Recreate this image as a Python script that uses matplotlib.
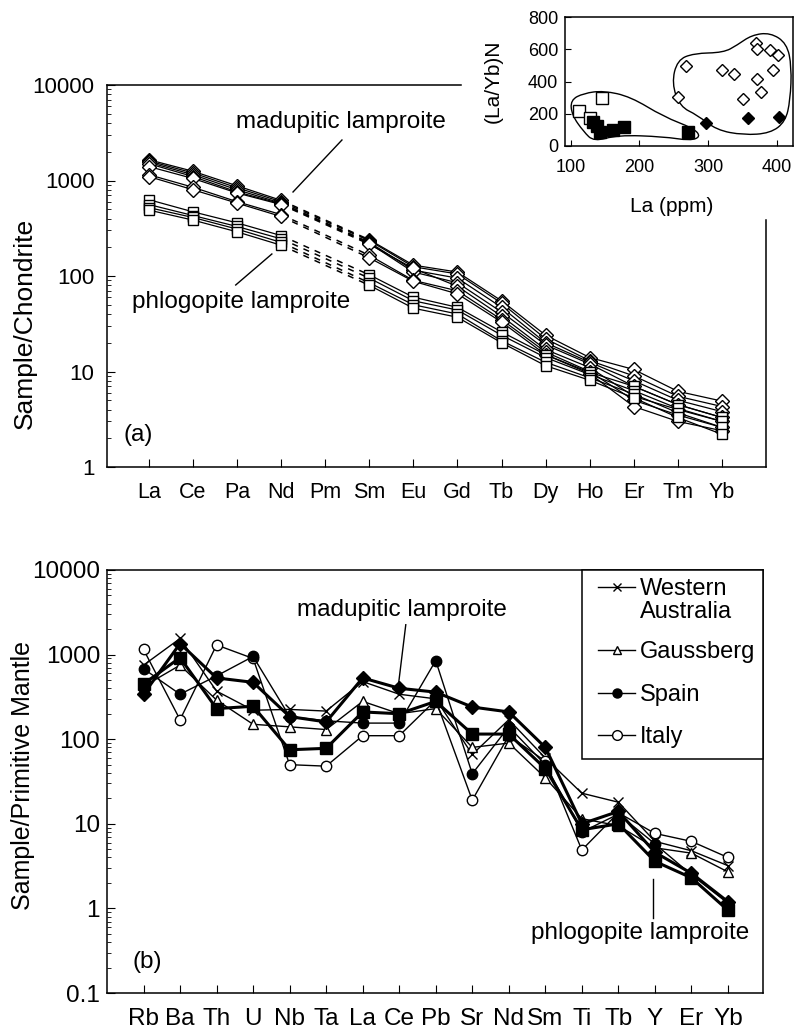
import numpy as np
import matplotlib.pyplot as plt
from matplotlib.lines import Line2D
from matplotlib.path import Path
from matplotlib.patches import PathPatch, Rectangle

plt.rcParams['font.family'] = ['Liberation Sans', 'DejaVu Sans']

nan = np.nan

# ---------------- data: (a) REE / chondrite ----------------
ree = ['La', 'Ce', 'Pa', 'Nd', 'Pm', 'Sm', 'Eu', 'Gd', 'Tb', 'Dy', 'Ho', 'Er', 'Tm', 'Yb']

# madupitic lamproite (open diamonds), Pm not analysed
mad_a1 = [1650, 1250, 880, 620, nan, 240, 130, 110, 55, 24, 14, 10.5, 6.2, 4.9]
mad_a2 = [1600, 1200, 840, 600, nan, 235, 125, 105, 52, 22, 13, 9, 5.5, 4.3]
mad_a3 = [1550, 1150, 800, 580, nan, 225, 115, 95, 47, 20, 12.5, 8, 5, 3.8]
mad_a4 = [1500, 1100, 760, 570, nan, 220, 110, 85, 42, 19, 12, 7, 4.5, 3.3]
mad_a5 = [1400, 1050, 740, 560, nan, 215, 120, 78, 38, 17, 11, 5.5, 4, 3]
mad_a6 = [1150, 850, 600, 440, nan, 165, 90, 70, 35, 16, 10, 5, 3.5, 2.6]
mad_a7 = [1100, 800, 580, 420, nan, 155, 88, 65, 33, 15, 9.5, 4.3, 3.0, 2.4]

# phlogopite lamproite (open squares)
phl_a1 = [630, 470, 360, 265, nan, 103, 60, 47, 26, 15, 9.8, 7, 4.5, 3.3]
phl_a2 = [560, 430, 330, 245, nan, 95, 55, 44, 24, 14, 9.3, 6.3, 4.1, 3.0]
phl_a3 = [520, 410, 310, 225, nan, 85, 50, 40, 21, 12.5, 8.6, 5.8, 3.7, 2.6]
phl_a4 = [490, 385, 290, 210, nan, 80, 46, 37, 20, 11.5, 8.1, 5.3, 3.3, 2.2]

# ---------------- data: inset (La/Yb)N vs La ----------------
mad_open_la = [268, 256, 320, 338, 351, 370, 371, 371, 377, 390, 401, 394]
mad_open_ratio = [498, 306, 471, 446, 291, 637, 599, 413, 337, 595, 564, 471]
mad_fill_la = [296, 358, 403]
mad_fill_ratio = [145, 175, 178]
phl_open_la = [113, 145, 129]
phl_open_ratio = [219, 300, 173]
phl_fill_la = [139, 143, 161, 177, 270, 133]
phl_fill_ratio = [124, 89, 99, 117, 89, 151]

# hand-drawn fields around the two groups
field_phl_x = [100, 119, 148, 187, 235, 279, 289, 274, 235, 168, 134, 119, 102]
field_phl_y = [285, 327, 343, 306, 182, 109, 58, 33, 58, 68, 27, 89, 192]
field_mad_x = [247, 255, 279, 322, 342, 363, 390, 414, 421, 419, 412, 390, 351, 312, 284, 259]
field_mad_y = [389, 533, 575, 579, 626, 688, 703, 637, 492, 285, 151, 79, 68, 99, 192, 244]

# ---------------- data: (b) spider diagram ----------------
spider = ['Rb', 'Ba', 'Th', 'U', 'Nb', 'Ta', 'La', 'Ce', 'Pb', 'Sr', 'Nd', 'Sm', 'Ti', 'Tb', 'Y', 'Er', 'Yb']
w_australia = [750, 1550, 370, 220, 225, 215, 480, 340, 300, 66, 170, 60, 23, 18, 6.2, 4.8, 3.2]
gaussberg = [420, 750, 290, 150, 140, 130, 280, 200, 230, 80, 90, 35, 11.5, 9.5, 5.2, 4.5, 2.7]
spain = [680, 340, 560, 950, 185, 165, 155, 155, 850, 39, 140, 50, 8, 13, 5.8, 2.5, 1.15]
italy = [1150, 170, 1300, 900, 50, 48, 110, 110, 290, 19, 110, 55, 4.9, 13.5, 7.7, 6.2, 4.0]
madupitic_b = [340, 1350, 530, 470, 185, 160, 530, 400, 360, 240, 210, 80, 10, 14, 4.6, 2.6, 1.2]
phlogopite_b = [450, 920, 230, 245, 75, 78, 210, 200, 280, 115, 115, 45, 8.5, 10, 3.6, 2.3, 0.95]

W, H = 801, 1033
fig = plt.figure(figsize=(W / 100, H / 100), dpi=100)


def fx(px):
    return px / W


def fy(py):
    return 1 - py / H


def blob(xs, ys):
    # smooth closed outline (quadratic B-spline through midpoints)
    pts = np.column_stack([xs, ys]).astype(float)
    mids = (pts + np.roll(pts, -1, axis=0)) / 2
    verts = [mids[-1]]
    codes = [Path.MOVETO]
    for i in range(len(pts)):
        verts += [pts[i], mids[i]]
        codes += [Path.CURVE3, Path.CURVE3]
    return Path(verts, codes)


# ================= panel (a) =================
ax_a = fig.add_axes([fx(107), fy(467), fx(766) - fx(107), fy(85) - fy(467)])
x_a = np.arange(1, len(ree) + 1)

for vals in [mad_a1, mad_a2, mad_a3, mad_a4, mad_a5, mad_a6, mad_a7]:
    v = np.array(vals, float)
    ax_a.plot([4, 6], [v[3], v[5]], color='k', lw=1.1, ls=(0, (4, 4)), zorder=1)
    ax_a.plot(x_a, v, color='k', lw=0.9, marker='D', ms=7.5, mfc='white', mec='k', mew=1, zorder=2)
for vals in [phl_a1, phl_a2, phl_a3, phl_a4]:
    v = np.array(vals, float)
    ax_a.plot([4, 6], [v[3], v[5]], color='k', lw=1.1, ls=(0, (4, 4)), zorder=1)
    ax_a.plot(x_a, v, color='k', lw=0.9, marker='s', ms=7.5, mfc='white', mec='k', mew=1, zorder=2)

ax_a.set_yscale('log')
ax_a.set_ylim(1, 10000)
ax_a.set_xlim(0.05, 15.0)
ax_a.set_xticks(x_a)
ax_a.set_xticklabels(ree)
ax_a.set_yticks([1, 10, 100, 1000, 10000])
ax_a.set_yticklabels(['1', '10', '100', '1000', '10000'])
ax_a.tick_params(axis='y', which='major', direction='in', length=6, labelsize=16, pad=9)
ax_a.tick_params(axis='y', which='minor', direction='in', length=3)
ax_a.tick_params(axis='x', direction='in', length=6, labelsize=15.5, pad=11)
ax_a.spines['top'].set_bounds(0.05, 8.07)
ax_a.spines['right'].set_bounds(1, 390)
for s in ax_a.spines.values():
    s.set_linewidth(1.1)

ax_a.text(5.36, 4100, 'madupitic lamproite', fontsize=17.5, ha='center', va='center')
ax_a.plot([5.38, 4.27], [2655, 758], color='k', lw=1)
ax_a.text(3.09, 53.4, 'phlogopite lamproite', fontsize=17.5, ha='center', va='center')
ax_a.plot([2.97, 3.79], [80.5, 170], color='k', lw=1)
ax_a.text(0.75, 2.16, '(a)', fontsize=17.5, ha='center', va='center')
fig.text(fx(25), fy(323), 'Sample/Chondrite', rotation=90, fontsize=19, ha='center', va='center')

# ================= inset =================
ax_in = fig.add_axes([fx(565), fy(146), fx(793) - fx(565), fy(17) - fy(146)])
ax_in.patch.set_facecolor('white')
ax_in.add_patch(PathPatch(blob(field_phl_x, field_phl_y), fc='none', ec='k', lw=1))
ax_in.add_patch(PathPatch(blob(field_mad_x, field_mad_y), fc='none', ec='k', lw=1))
ax_in.plot(mad_open_la, mad_open_ratio, ls='none', marker='D', ms=6.5, mfc='white', mec='k', mew=1)
ax_in.plot(mad_fill_la, mad_fill_ratio, ls='none', marker='D', ms=6.5, mfc='k', mec='k')
ax_in.plot(phl_open_la, phl_open_ratio, ls='none', marker='s', ms=9, mfc='white', mec='k', mew=1)
ax_in.plot(phl_fill_la, phl_fill_ratio, ls='none', marker='s', ms=9, mfc='k', mec='k')
ax_in.set_xlim(92, 423)
ax_in.set_ylim(0, 800)
ax_in.set_xticks([100, 200, 300, 400])
ax_in.set_yticks([0, 200, 400, 600, 800])
ax_in.tick_params(direction='in', length=4, labelsize=13)
ax_in.tick_params(axis='x', pad=9)
ax_in.tick_params(axis='y', pad=5)
for s in ax_in.spines.values():
    s.set_linewidth(1.1)
fig.text(fx(672), fy(207), 'La (ppm)', fontsize=15, ha='center', va='center')
fig.text(fx(493), fy(81), '(La/Yb)N', rotation=90, fontsize=15, ha='center', va='center')

# ================= panel (b) =================
ax_b = fig.add_axes([fx(107), fy(993), fx(763) - fx(107), fy(570) - fy(993)])
x_b = np.arange(1, len(spider) + 1)

thin = dict(color='k', lw=1, mec='k', mew=1)
ax_b.plot(x_b, w_australia, marker='x', ms=6.5, **thin)
ax_b.plot(x_b, gaussberg, marker='^', ms=6.5, mfc='white', **thin)
ax_b.plot(x_b, italy, marker='o', ms=7.5, mfc='white', **thin)
ax_b.plot(x_b, spain, marker='o', ms=7.5, mfc='k', **thin)
ax_b.plot(x_b, madupitic_b, color='k', lw=2.2, marker='D', ms=7, mfc='k', mec='k')
ax_b.plot(x_b, phlogopite_b, color='k', lw=2.2, marker='s', ms=9, mfc='k', mec='k')

ax_b.set_yscale('log')
ax_b.set_ylim(0.1, 10000)
ax_b.set_xlim(0, 17.96)
ax_b.set_xticks(x_b)
ax_b.set_xticklabels(spider)
ax_b.set_yticks([0.1, 1, 10, 100, 1000, 10000])
ax_b.set_yticklabels(['0.1', '1', '10', '100', '1000', '10000'])
ax_b.tick_params(axis='y', which='major', direction='in', length=6, labelsize=17.5, pad=5)
ax_b.tick_params(axis='y', which='minor', direction='in', length=3)
ax_b.tick_params(axis='x', direction='in', length=6, labelsize=17.5, pad=11)
for s in ax_b.spines.values():
    s.set_linewidth(1.1)

ax_b.text(8.07, 3380, 'madupitic lamproite', fontsize=17.5, ha='center', va='center')
ax_b.plot([8.18, 7.99], [2255, 481], color='k', lw=1)
ax_b.text(14.59, 0.508, 'phlogopite lamproite', fontsize=17.5, ha='center', va='center')
ax_b.plot([14.95, 14.95], [2.25, 0.78], color='k', lw=1)
ax_b.text(1.11, 0.232, '(b)', fontsize=17.5, ha='center', va='center')
fig.text(fx(23), fy(775), 'Sample/Primitive Mantle', rotation=90, fontsize=18, ha='center', va='center')

# legend box, drawn in figure pixels so the first handle sits on "Western"
fig.add_artist(Rectangle((fx(582), fy(759)), fx(763) - fx(582), fy(570) - fy(759),
                         transform=fig.transFigure, fc='white', ec='k', lw=1.1, zorder=3))
leg_rows = [
    (587, 'Western\nAustralia', dict(marker='x', ms=6, mfc='k')),
    (650, 'Gaussberg', dict(marker='^', ms=6, mfc='white')),
    (693, 'Spain', dict(marker='o', ms=6.5, mfc='k')),
    (735, 'Italy', dict(marker='o', ms=7, mfc='white')),
]
for py, lab, style in leg_rows:
    fig.add_artist(Line2D([fx(598), fx(635)], [fy(py), fy(py)], transform=fig.transFigure,
                          color='k', lw=1, zorder=4))
    fig.add_artist(Line2D([fx(616.5)], [fy(py)], transform=fig.transFigure, ls='none',
                          mec='k', mew=1, zorder=5, **style))
    fig.text(fx(640), fy(py - 9), lab, fontsize=17, ha='left', va='top',
             linespacing=1.05, zorder=5)

fig.savefig('out.png', dpi=100)
